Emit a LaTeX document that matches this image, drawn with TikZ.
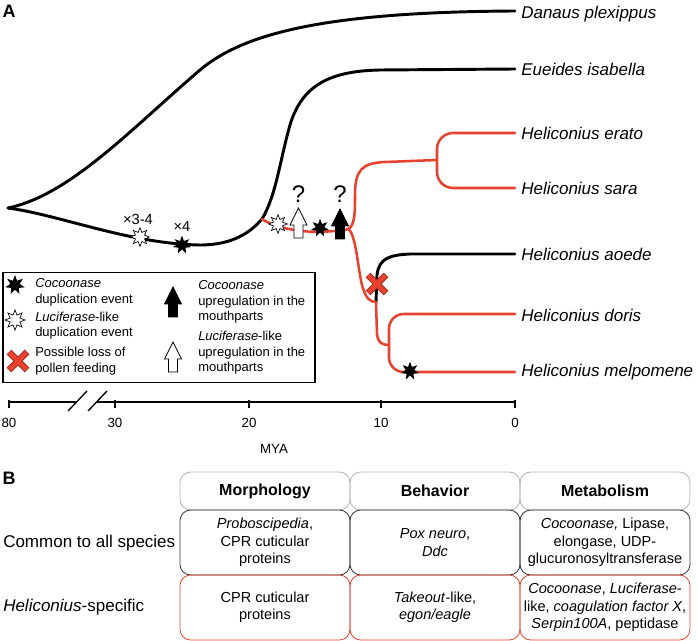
\documentclass[tikz,border=0pt]{standalone}
\usepackage{fontspec}
\setmainfont{Liberation Sans}
\usetikzlibrary{shapes.geometric}
\definecolor{hred}{RGB}{232,66,46}
\definecolor{hredd}{RGB}{150,40,30}
\tikzset{
  blockarrow/.pic={\path[pic actions] (-4.5,15) -- (-4.5,2) -- (-8.5,2) -- (0,-15) -- (8.5,2) -- (4.5,2) -- (4.5,15) -- cycle;},
  redx/.pic={
    \draw[line width=5pt, hredd] (-9,-9) -- (9,9) (-9,9) -- (9,-9);
    \draw[line width=3.6pt, hred] (-8.6,-8.6) -- (8.6,8.6) (-8.6,8.6) -- (8.6,-8.6);}
}
\begin{document}
\begin{tikzpicture}[x=0.75pt,y=-0.75pt,
  blk/.style={line width=2.2pt, black, line cap=round},
  rd/.style={line width=1.9pt, hred, line cap=round},
  sp/.style={anchor=west, font=\fontsize{12.75}{15}\selectfont\itshape, inner sep=0},
  bstar/.style={star, star points=7, star point ratio=2.1, fill=black, inner sep=0, minimum size=14pt},
  wstar/.style={star, star points=8, star point ratio=1.9, fill=white, draw=black, line width=0.5pt, inner sep=0, minimum size=14pt},
  lg/.style={anchor=west, align=left, font=\fontsize{9.75}{11.6}\selectfont, inner sep=0},
  qm/.style={font=\fontsize{18}{18}\selectfont, inner sep=0},
  mult/.style={font=\fontsize{11}{11}\selectfont, inner sep=0},
  tick/.style={font=\fontsize{10}{10}\selectfont, inner sep=0},
  cell/.style={rounded corners=8pt, minimum width=127.5pt, align=center, inner sep=1pt, line width=0.6pt,
     font=\fontsize{10.9}{13.1}\selectfont},
  hcell/.style={cell, draw=black!30, minimum height=28.5pt, font=\fontsize{12}{14}\selectfont\bfseries},
  rcell/.style={cell, minimum height=48.75pt},
  rowlab/.style={anchor=west, inner sep=0, font=\fontsize{12.75}{15}\selectfont},
  panel/.style={inner sep=0, font=\fontsize{13.5}{14}\selectfont\bfseries}
]
\useasboundingbox (0,0) rectangle (699,641);

% panel labels
\node[panel] (pA) at (9,11) {A};
\node[panel] (pB) at (9,478) {B};

% tree coordinates
\coordinate (root) at (8,208);
\coordinate (split) at (262,219);
\coordinate (hsplit) at (348,229);
\coordinate (aoj) at (376,302);
\coordinate (dmj) at (389,345);
\coordinate (esj) at (437,160);

% species labels
\node[sp] (dan) at (521,14) {Danaus plexippus};
\node[sp] (eue) at (521,69) {Eueides isabella};
\node[sp] (era) at (521,133) {Heliconius erato};
\node[sp] (sar) at (521,188) {Heliconius sara};
\node[sp] (aoe) at (521,254) {Heliconius aoede};
\node[sp] (dor) at (521,315) {Heliconius doris};
\node[sp] (mel) at (521,372) {Heliconius melpomene};

% black branches
\draw[blk] (root) .. controls (70,195) and (130,130) .. (200,70)
  .. controls (245,32) and (330,12) .. (515,11);
\draw[blk] (root) .. controls (60,215) and (130,244) .. (200,245)
  .. controls (232,245) and (250,233) .. (split)
  .. controls (276,196) and (280,160) .. (290,125)
  .. controls (302,85) and (330,71) .. (380,70) -- (515,69);
\draw[blk] (aoj) -- (377,275) .. controls (379,258) and (390,255) .. (410,254) -- (515,254);

% red branches
\draw[rd] (split) .. controls (275,228) and (300,232) .. (320,232) -- (335,231) .. controls (342,231) and (346,230) .. (hsplit);
\draw[rd] (hsplit) .. controls (355,226) and (355,212) .. (355,195)
  .. controls (355,170) and (362,163) .. (385,162) -- (esj);
\draw[rd, rounded corners=12pt] (515,133) -- (437,133) -- (437,188) -- (515,188);
\draw[rd] (hsplit) .. controls (356,233) and (358,270) .. (362,285)
  .. controls (366,299) and (370,302) .. (aoj);
\draw[rd] (aoj) -- (377,334) .. controls (378,343) and (382,345) .. (dmj);
\draw[rd, rounded corners=11pt] (515,314) -- (389,314) -- (389,372) -- (515,372);

% events on tree
\node[wstar] (w1) at (140,237) {};
\node[mult] (m1) at (138,219) {×3-4};
\node[bstar] (b1) at (182,245) {};
\node[mult] (m2) at (182,226) {×4};
\node[wstar] (w2) at (278,224) {};
\pic[draw=black, fill=white, line width=0.6pt] at (298.5,223) {blockarrow};
\node[qm] (q1) at (298.5,194) {?};
\node[bstar] (b2) at (320,228) {};
\pic[draw=black, fill=black, line width=0.6pt] at (340,224) {blockarrow};
\node[qm] (q2) at (340,194) {?};
\pic at (377,284) {redx};
\node[bstar] (b3) at (410,371) {};

% legend
\node[draw=black, line width=0.9pt, minimum width=234pt, minimum height=83pt, inner sep=0] (legend) at (159,327.5) {};
\node[bstar, minimum size=15pt] (lb) at (15,285) {};
\node[lg] (lt1) at (35,292.5) {\textit{Cocoonase}\\duplication event};
\node[wstar, minimum size=15pt] (lw) at (15,320) {};
\node[lg] (lt2) at (35,325.5) {\textit{Luciferase}-like\\duplication event};
\pic at (18,361) {redx};
\node[lg] (lt3) at (35,361) {Possible loss of\\pollen feeding};
\pic[draw=black, fill=black, line width=0.6pt] at (173,302) {blockarrow};
\node[lg] (lt4) at (198,302) {\textit{Cocoonase}\\upregulation in the\\mouthparts};
\pic[draw=black, fill=white, line width=0.6pt] at (173,357) {blockarrow};
\node[lg] (lt5) at (198,353) {\textit{Luciferase}-like\\upregulation in the\\mouthparts};

% axis
\coordinate (t80) at (9,402);
\coordinate (t30) at (115,402);
\coordinate (t20) at (249,402);
\coordinate (t10) at (381,402);
\coordinate (t0) at (515,402);
\coordinate (br1) at (77,402);
\coordinate (br2) at (97,402);
\draw[line width=1pt] (t80) -- (br1);
\draw[line width=1pt] (br2) -- (t0);
\draw[line width=1pt] (68,411) -- (87,391);
\draw[line width=1pt] (88,411) -- (107,391);
\foreach \p in {t80,t30,t20,t10,t0} \draw[line width=1pt] (\p) ++(0,-2) -- ++(0,8);
\node[tick] (l80) at (9,423) {80};
\node[tick] (l30) at (115,423) {30};
\node[tick] (l20) at (249,423) {20};
\node[tick] (l10) at (381,423) {10};
\node[tick] (l0) at (515,423) {0};
\node[tick] (mya) at (274,449) {MYA};

% table B
\node[hcell] (h1) at (265,491) {Morphology};
\node[hcell] (h2) at (435,491) {Behavior};
\node[hcell] (h3) at (605,491) {Metabolism};
\node[rcell, draw=black!80] (c11) at (265,542.5) {\textit{Proboscipedia},\\CPR cuticular\\proteins};
\node[rcell, draw=black!80] (c12) at (435,542.5) {\textit{Pox neuro},\\\textit{Ddc}};
\node[rcell, draw=black!80] (c13) at (605,542.5) {\textit{Cocoonase,} Lipase,\\elongase, UDP-\\glucuronosyltransferase};
\node[rcell, draw=hred] (c21) at (265,607.5) {CPR cuticular\\proteins};
\node[rcell, draw=hred] (c22) at (435,607.5) {\textit{Takeout}-like,\\\textit{egon/eagle}};
\node[rcell, draw=hred] (c23) at (605,607.5) {\textit{Cocoonase}, \textit{Luciferase}-\\like, \textit{coagulation factor X},\\\textit{Serpin100A}, peptidase};
\node[rowlab] (r1) at (3,543) {Common to all species};
\node[rowlab] (r2) at (3,607) {\textit{Heliconius}-specific};
\end{tikzpicture}
\end{document}
